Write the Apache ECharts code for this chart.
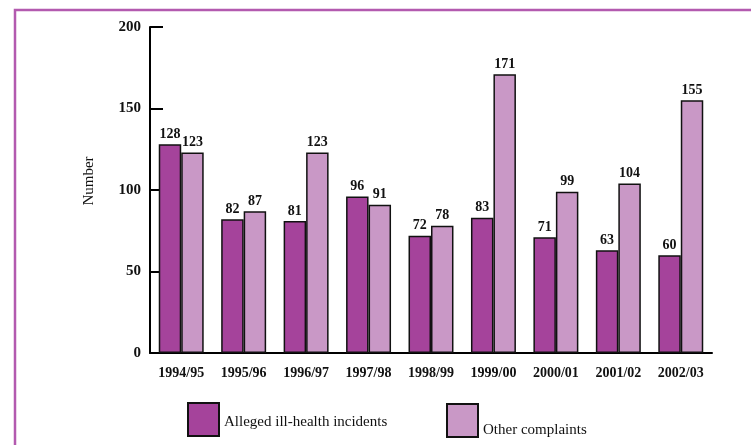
<!DOCTYPE html>
<html>
<head>
<meta charset="utf-8">
<script src="https://cdn.jsdelivr.net/npm/echarts@6/dist/echarts.min.js"></script>
<style>
  html, body { margin: 0; padding: 0; background: #fff; }
  #chart { width: 751px; height: 445px; }
</style>
</head>
<body>
<div id="chart"></div>
<script>
// Yearly counts
const years = ['1994/95', '1995/96', '1996/97', '1997/98', '1998/99', '1999/00', '2000/01', '2001/02', '2002/03'];
const illHealth = [128, 82, 81, 96, 72, 83, 71, 63, 60];
const otherComplaints = [123, 87, 123, 91, 78, 171, 99, 104, 155];
const yTicks = [0, 50, 100, 150, 200];

const seriesNames = ['Alleged ill-health incidents', 'Other complaints'];
const colours = ['#A5439B', '#C998C6'];
const numFont = '"Liberation Serif", "DejaVu Serif", serif';
const textFont = '"Liberation Serif", "DejaVu Serif", serif';

const chart = echarts.init(document.getElementById('chart'), null, { renderer: 'canvas' });

function legendBox(name, left, top, dropPx) {
  return {
    data: [name],
    left: left, top: top, padding: 0, itemGap: 0,
    icon: 'rect', itemWidth: 31, itemHeight: 33,
    formatter: '{t|{name}}',
    textStyle: {
      color: '#111',
      rich: { t: { fontFamily: textFont, fontSize: 15, color: '#111', padding: [dropPx * 2, 0, 0, 0] } }
    }
  };
}

chart.setOption({
  animation: false,
  backgroundColor: '#ffffff',
  graphic: [{
    type: 'polyline',
    shape: { points: [[15, 450], [15, 10], [760, 10]] },
    style: { stroke: '#B35AAF', lineWidth: 2.5, fill: null }
  }],
  grid: { left: 150, top: 27, right: 39, bottom: 92 },
  legend: [
    legendBox(seriesNames[0], 187, 402, 3),
    legendBox(seriesNames[1], 446, 403, 10)
  ],
  xAxis: {
    type: 'category',
    data: years,
    axisLine: { lineStyle: { color: '#000', width: 2 } },
    axisTick: { inside: true, length: 8, lineStyle: { color: '#000', width: 2 } },
    axisLabel: { interval: 0, fontFamily: numFont, fontWeight: 'bold', fontSize: 14, color: '#111', margin: 13 }
  },
  yAxis: {
    type: 'value',
    min: yTicks[0], max: yTicks[yTicks.length - 1], interval: 50,
    name: 'Number',
    nameLocation: 'middle',
    nameGap: 53,
    nameRotate: 90,
    nameTextStyle: { fontFamily: textFont, fontSize: 15, color: '#111', padding: [0, 0, 0, 18] },
    axisLine: { show: true, lineStyle: { color: '#000', width: 2 } },
    axisTick: { show: true, inside: true, length: 13, lineStyle: { color: '#000', width: 2 } },
    splitLine: { show: false },
    axisLabel: { fontFamily: numFont, fontWeight: 'bold', fontSize: 15, color: '#111', margin: 9 }
  },
  series: [
    {
      name: seriesNames[0],
      type: 'bar',
      data: illHealth,
      barGap: '0%',
      barCategoryGap: '28%',
      itemStyle: { color: colours[0], borderColor: '#111', borderWidth: 1.5 },
      label: { show: true, position: 'top', distance: 3, fontFamily: numFont, fontWeight: 'bold', fontSize: 14, color: '#111' }
    },
    {
      name: seriesNames[1],
      type: 'bar',
      data: otherComplaints,
      itemStyle: { color: colours[1], borderColor: '#111', borderWidth: 1.5 },
      label: { show: true, position: 'top', distance: 3, fontFamily: numFont, fontWeight: 'bold', fontSize: 14, color: '#111' }
    }
  ]
});
</script>
</body>
</html>
